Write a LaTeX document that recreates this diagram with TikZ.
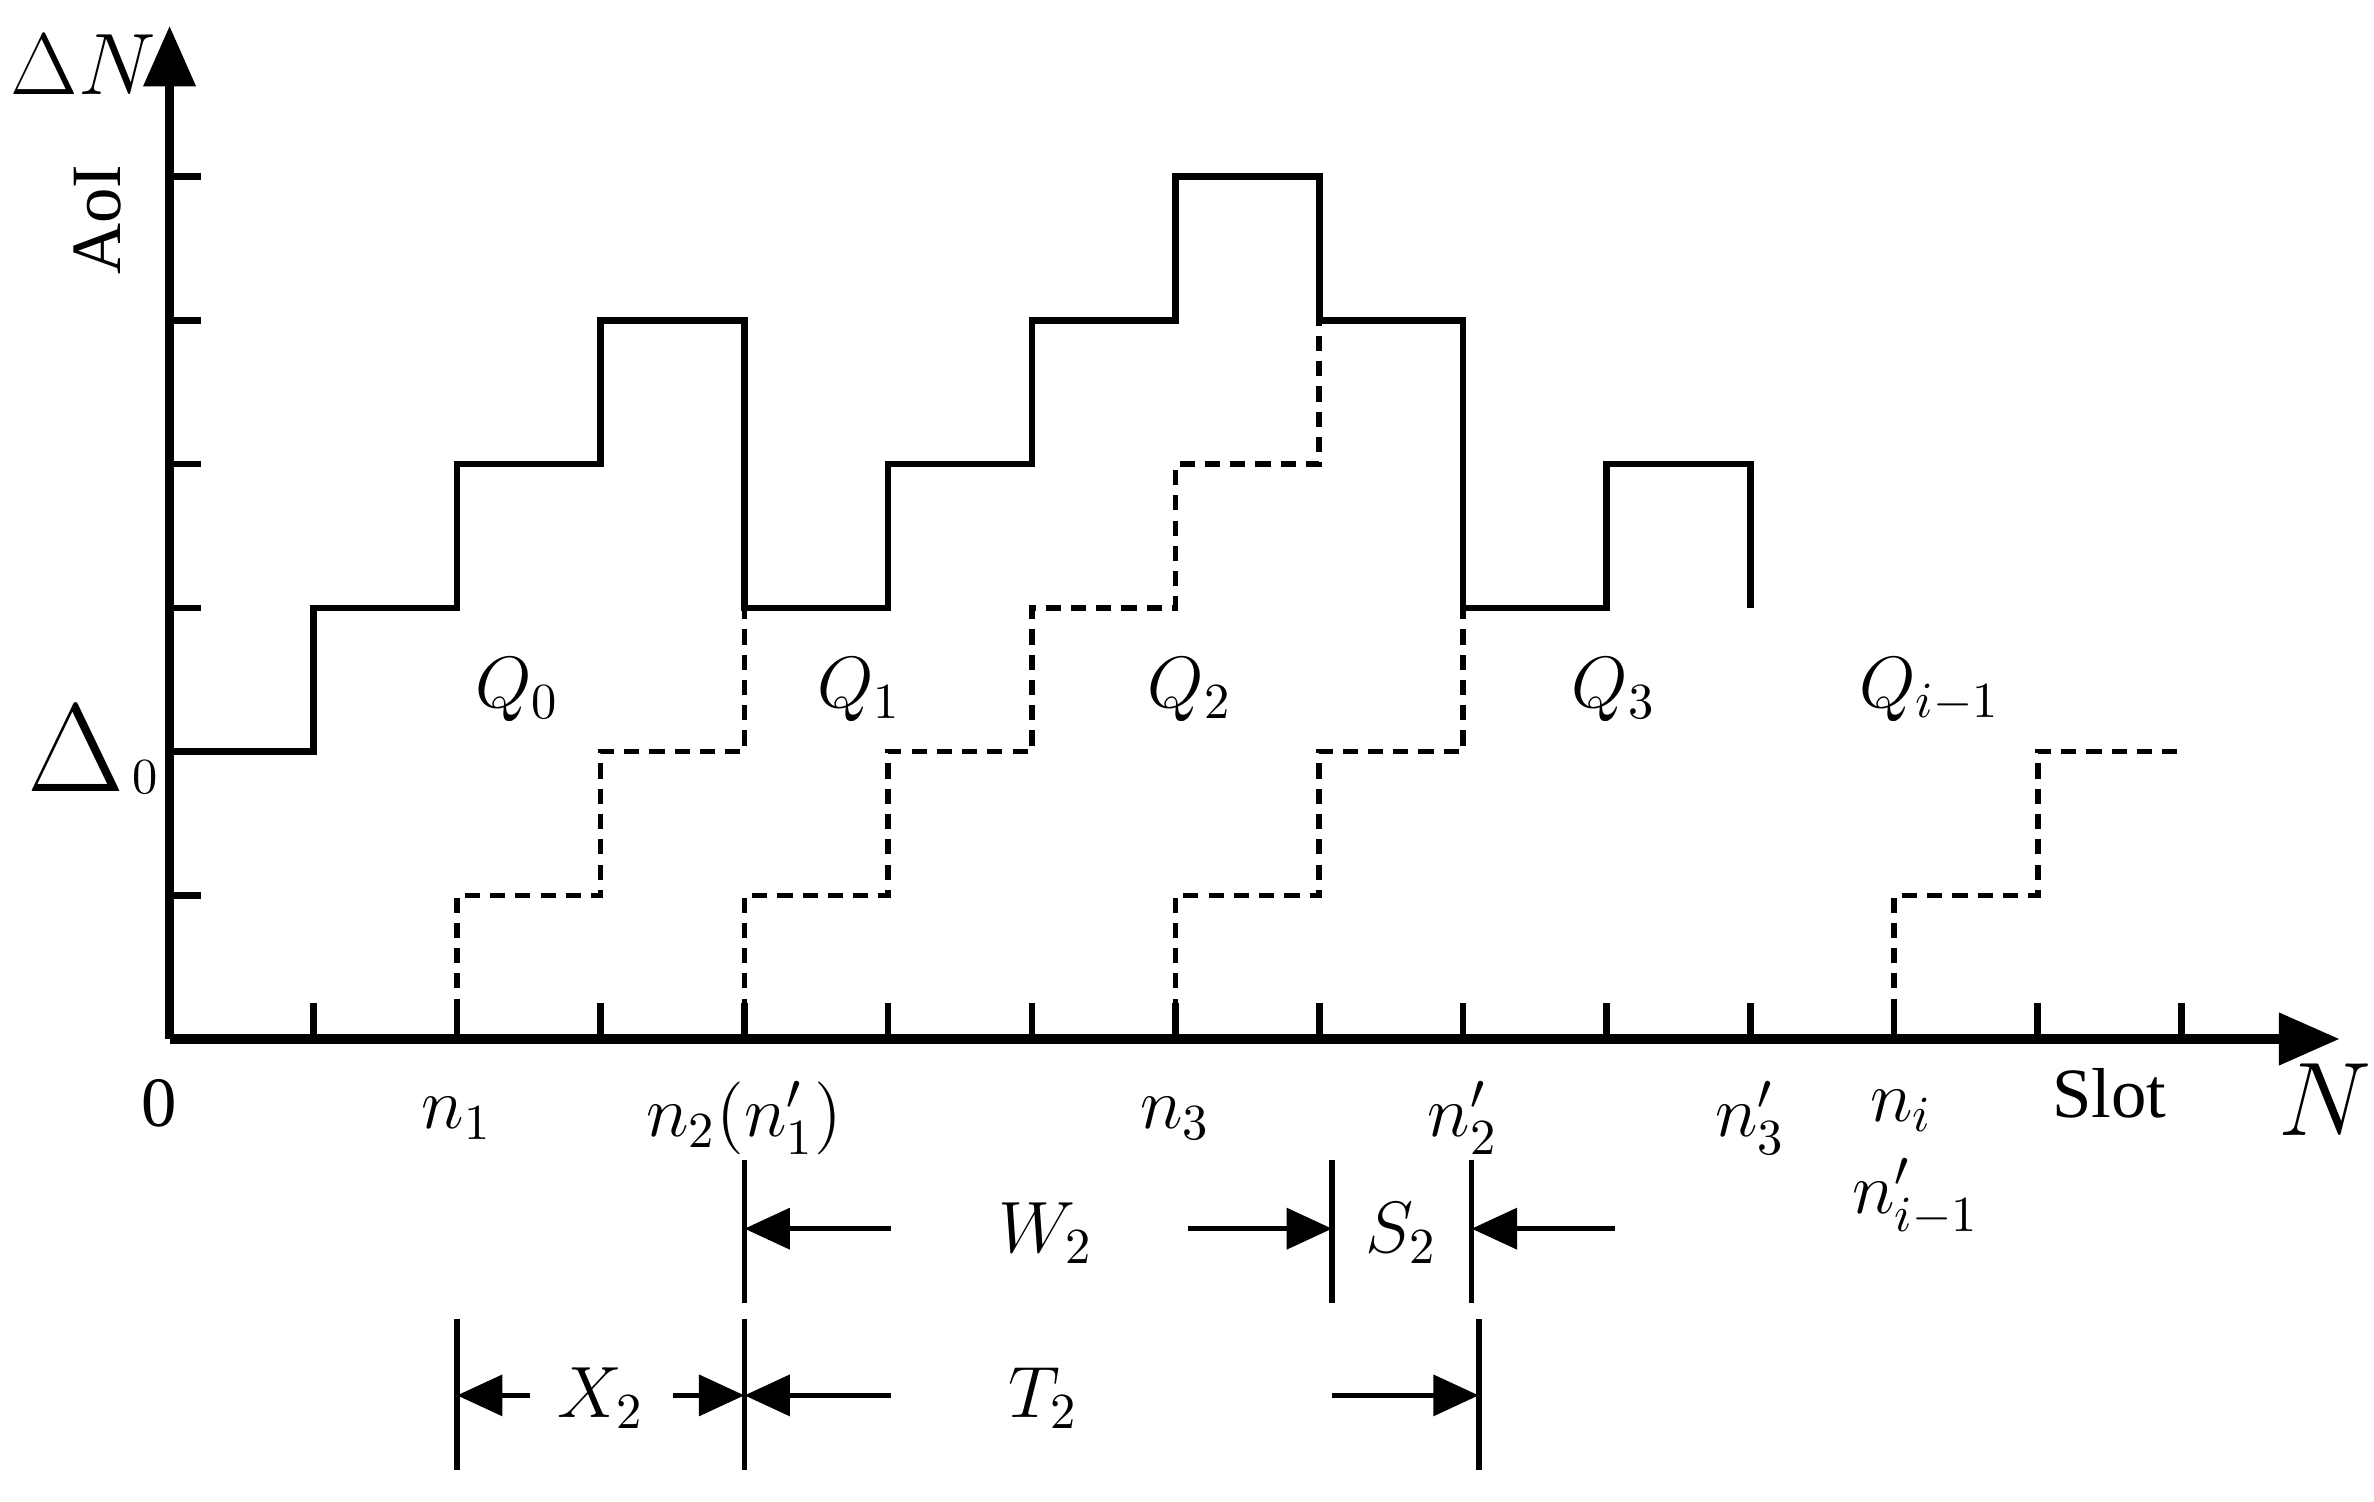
\documentclass[tikz,border=0pt]{standalone}
\usepackage{fontspec}
\setmainfont{Liberation Serif}
\usetikzlibrary{arrows.meta}
\begin{document}
\begin{tikzpicture}[x=1cm,y=1cm,
  lbl/.style={inner sep=1pt,font=\fontsize{14}{16}\selectfont},
  solidstep/.style={line width=1.3pt},
  dashstep/.style={line width=1.1pt,dash pattern=on 3pt off 2pt},
  dim/.style={line width=1.1pt,-{Triangle[length=9pt,width=8pt]}},
  bar/.style={line width=1.1pt}]
\useasboundingbox (-1.18,-3.22) rectangle (15.34,7.23);
% axes
\draw[line width=1.8pt,-{Triangle[length=12pt,width=10pt]}] (0,0) -- (15.1,0);
\draw[line width=1.8pt,-{Triangle[length=12pt,width=10pt]}] (0,0) -- (0,7.05);
\foreach \i in {1,...,14} \draw[line width=1.3pt] (\i,0) -- (\i,0.25);
\foreach \j in {1,...,6} \draw[line width=1.3pt] (0,\j) -- (0.22,\j);
% solid AoI
\draw[solidstep] (0,2) -- (1,2) -- (1,3) -- (2,3) -- (2,4) -- (3,4) -- (3,5) -- (4,5) -- (4,3)
  -- (5,3) -- (5,4) -- (6,4) -- (6,5) -- (7,5) -- (7,6) -- (8,6) -- (8,5) -- (9,5) -- (9,3)
  -- (10,3) -- (10,4) -- (11,4) -- (11,3);
% dashed
\draw[dashstep] (2,0) -- (2,1) -- (3,1) -- (3,2) -- (4,2) -- (4,3);
\draw[dashstep] (4,0) -- (4,1) -- (5,1) -- (5,2) -- (6,2) -- (6,3) -- (7,3) -- (7,4) -- (8,4) -- (8,5);
\draw[dashstep] (7,0) -- (7,1) -- (8,1) -- (8,2) -- (9,2) -- (9,3);
\draw[dashstep] (12,0) -- (12,1) -- (13,1) -- (13,2) -- (14,2);
% axis labels
\node[lbl,font=\fontsize{18}{20}\selectfont] (dn) at (-0.6,6.78) {$\Delta N$};
\node[lbl,rotate=90] (aoi) at (-0.5,5.7) {AoI};
\node[lbl] (d0) at (-0.65,2.02) {{\fontsize{26}{28}\selectfont$\Delta$}};
\node[lbl] (d0s) at (-0.17,1.82) {$\scriptstyle 0$};
\node[lbl] (zero) at (-0.07,-0.45) {0};
\node[lbl] (slot) at (13.5,-0.38) {Slot};
\node[lbl,font=\fontsize{20}{22}\selectfont] (nax) at (15.0,-0.42) {$N$};
\node[lbl] (n1) at (2,-0.55) {$n_1$};
\node[lbl] (n2) at (4,-0.55) {$n_2(n_1')$};
\node[lbl] (n3) at (7,-0.55) {$n_3$};
\node[lbl] (n2p) at (9,-0.55) {$n_2'$};
\node[lbl] (n3p) at (11,-0.55) {$n_3'$};
\node[lbl] (ni) at (12.05,-0.5) {$n_i$};
\node[lbl] (nim) at (12.15,-1.1) {$n_{i-1}'$};
% Q labels
\node[lbl] (q0) at (2.42,2.43) {$Q_0$};
\node[lbl] (q1) at (4.8,2.43) {$Q_1$};
\node[lbl] (q2) at (7.1,2.43) {$Q_2$};
\node[lbl] (q3) at (10.05,2.43) {$Q_3$};
\node[lbl] (qi) at (12.25,2.43) {$Q_{i-1}$};
% dimension row 1
\coordinate (b1t) at (4,-0.84); \coordinate (b1b) at (4,-1.84);
\coordinate (b2t) at (8.09,-0.84); \coordinate (b2b) at (8.09,-1.84);
\coordinate (b3t) at (9.06,-0.84); \coordinate (b3b) at (9.06,-1.84);
\draw[bar] (b1t) -- (b1b); \draw[bar] (b2t) -- (b2b); \draw[bar] (b3t) -- (b3b);
\coordinate (w1) at (5.02,-1.32); \coordinate (w2) at (7.09,-1.32); \coordinate (s1) at (10.06,-1.32);
\draw[dim] (w1) -- (4,-1.32);
\draw[dim] (w2) -- (8.09,-1.32);
\draw[dim] (s1) -- (9.06,-1.32);
\node[lbl] (W2) at (6.1,-1.35) {$W_2$};
\node[lbl] (S2) at (8.57,-1.35) {$S_2$};
% dimension row 2
\draw[bar] (2,-1.95) -- (2,-3.0);
\draw[bar] (4,-1.95) -- (4,-3.0);
\draw[bar] (9.11,-1.95) -- (9.11,-3.0);
\coordinate (x1) at (2.51,-2.48); \coordinate (x2) at (3.5,-2.48);
\coordinate (t1) at (5.02,-2.48); \coordinate (t2) at (8.09,-2.48);
\draw[dim] (x1) -- (2,-2.48);
\draw[dim] (x2) -- (4,-2.48);
\draw[dim] (t1) -- (4,-2.48);
\draw[dim] (t2) -- (9.11,-2.48);
\node[lbl] (X2) at (3.0,-2.5) {$X_2$};
\node[lbl] (T2) at (6.08,-2.5) {$T_2$};
\end{tikzpicture}
\end{document}
